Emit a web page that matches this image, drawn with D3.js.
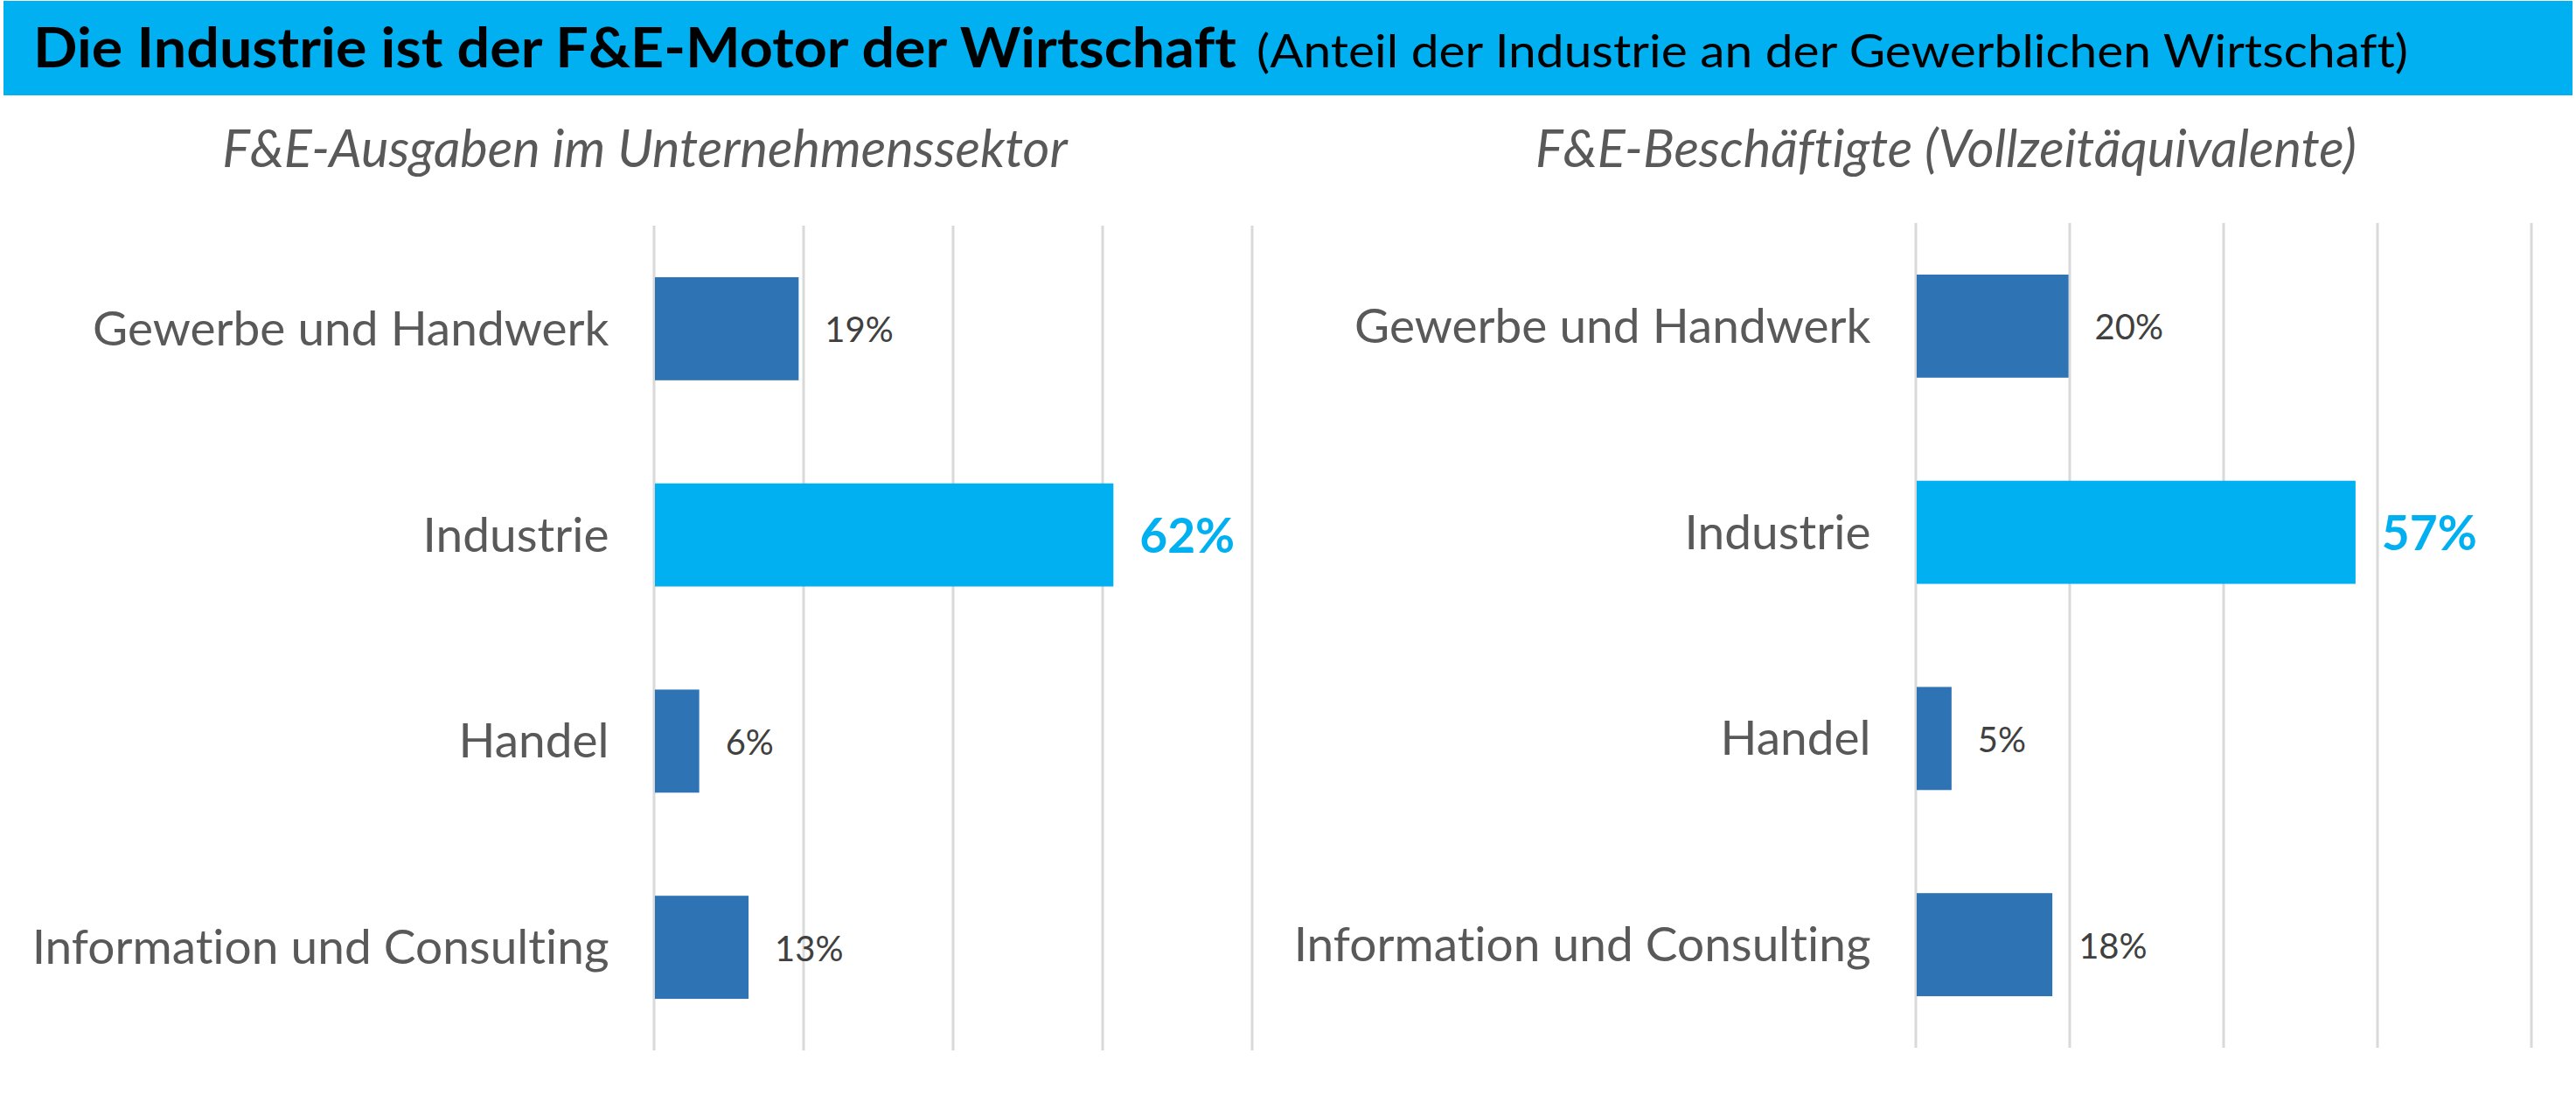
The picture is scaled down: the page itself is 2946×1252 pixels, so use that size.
<!DOCTYPE html>
<html>
<head>
<meta charset="utf-8">
<script src="https://cdn.jsdelivr.net/npm/d3@7"></script>
<style>
  html, body { margin: 0; padding: 0; background: #ffffff; }
  svg { display: block; }
  text { font-variant-ligatures: none; font-feature-settings: "liga" 0, "clig" 0; }
</style>
</head>
<body>
<svg id="chart" width="2946" height="1252"></svg>
<script>
// ---- data ----
const titleMain = "Die Industrie ist der F&E-Motor der Wirtschaft";
const titleSub = "(Anteil der Industrie an der Gewerblichen Wirtschaft)";
const categories = ["Gewerbe und Handwerk", "Industrie", "Handel", "Information und Consulting"];
const highlightCategory = "Industrie";
const panelTitles = ["F&E-Ausgaben im Unternehmenssektor", "F&E-Beschäftigte (Vollzeitäquivalente)"];
const ausgabenValues = [19.4, 61.5, 6.1, 12.7];        // % share, F&E-Ausgaben
const beschaeftigteValues = [19.9, 57.2, 4.7, 17.8];   // % share, F&E-Beschäftigte
const xTicks = [0, 20, 40, 60, 80];

// ---- styles / layout ----
const FONT = "Lato, 'Open Sans', sans-serif";
const BLUE_HI = "#00b0f0";
const BLUE = "#2e74b5";
const GRID = "#d9d9d9";
const LABEL = "#595959";
const VALUE = "#404040";

const svg = d3.select("#chart");

// Title banner
svg.append("rect")
  .attr("x", 4).attr("y", 1).attr("width", 2938).attr("height", 108)
  .attr("fill", BLUE_HI);

const title = svg.append("text")
  .attr("x", 38).attr("y", 77)
  .attr("font-family", FONT)
  .attr("fill", "#000");
title.append("tspan")
  .attr("font-weight", 700).attr("font-size", 63)
  .attr("textLength", 1376).attr("lengthAdjust", "spacingAndGlyphs")
  .text(titleMain);
title.append("tspan")
  .attr("x", 1437)
  .attr("font-weight", 400).attr("font-size", 53)
  .attr("textLength", 1317).attr("lengthAdjust", "spacingAndGlyphs")
  .text(titleSub);

const panels = [
  { values: ausgabenValues, title: panelTitles[0], x0: 747.5, x1: 1431.5, y0: 258, y1: 1201, titleX: 737.5 },
  { values: beschaeftigteValues, title: panelTitles[1], x0: 2190.5, x1: 2894.5, y0: 255, y1: 1198, titleX: 2225.5 }
];

panels.forEach(p => {
  const g = svg.append("g");
  const data = categories.map((c, i) => ({ cat: c, value: p.values[i] }));

  const x = d3.scaleLinear().domain([xTicks[0], xTicks[xTicks.length - 1]]).range([p.x0, p.x1]);
  const y = d3.scaleBand().domain(categories).range([p.y0, p.y1]).paddingInner(0.5).paddingOuter(0.25);

  // panel title
  g.append("text")
    .attr("x", p.titleX).attr("y", 191)
    .attr("text-anchor", "middle")
    .attr("font-family", FONT).attr("font-style", "italic")
    .attr("font-size", 59.5).attr("fill", LABEL)
    .text(p.title);

  // gridlines via axis
  const axis = d3.axisBottom(x).tickValues(xTicks).tickSize(-(p.y1 - p.y0)).tickFormat("");
  const ga = g.append("g").attr("transform", `translate(0,${p.y1})`).call(axis);
  ga.select(".domain").remove();
  ga.selectAll(".tick line").attr("stroke", GRID).attr("stroke-width", 3);

  // bars
  g.selectAll("rect.bar").data(data).join("rect")
    .attr("class", "bar")
    .attr("x", x(0) + 1.5)
    .attr("y", d => y(d.cat))
    .attr("width", d => x(d.value) - x(0) - 1.5)
    .attr("height", y.bandwidth())
    .attr("fill", d => d.cat === highlightCategory ? BLUE_HI : BLUE);

  // category labels
  g.selectAll("text.cat").data(data).join("text")
    .attr("class", "cat")
    .attr("x", x(0) - 51)
    .attr("y", d => y(d.cat) + y.bandwidth() / 2 + 19)
    .attr("text-anchor", "end")
    .attr("font-family", FONT).attr("font-size", 55)
    .attr("fill", LABEL)
    .text(d => d.cat);

  // value labels
  g.selectAll("text.val").data(data).join("text")
    .attr("class", "val")
    .attr("x", d => x(d.value) + 30)
    .attr("y", d => y(d.cat) + y.bandwidth() / 2 + (d.cat === highlightCategory ? 20 : 15.5))
    .attr("font-family", FONT)
    .attr("font-size", d => d.cat === highlightCategory ? 55 : 40)
    .attr("font-weight", d => d.cat === highlightCategory ? 700 : 400)
    .attr("fill", d => d.cat === highlightCategory ? BLUE_HI : VALUE)
    .text(d => Math.round(d.value) + "%");
});
</script>
</body>
</html>
